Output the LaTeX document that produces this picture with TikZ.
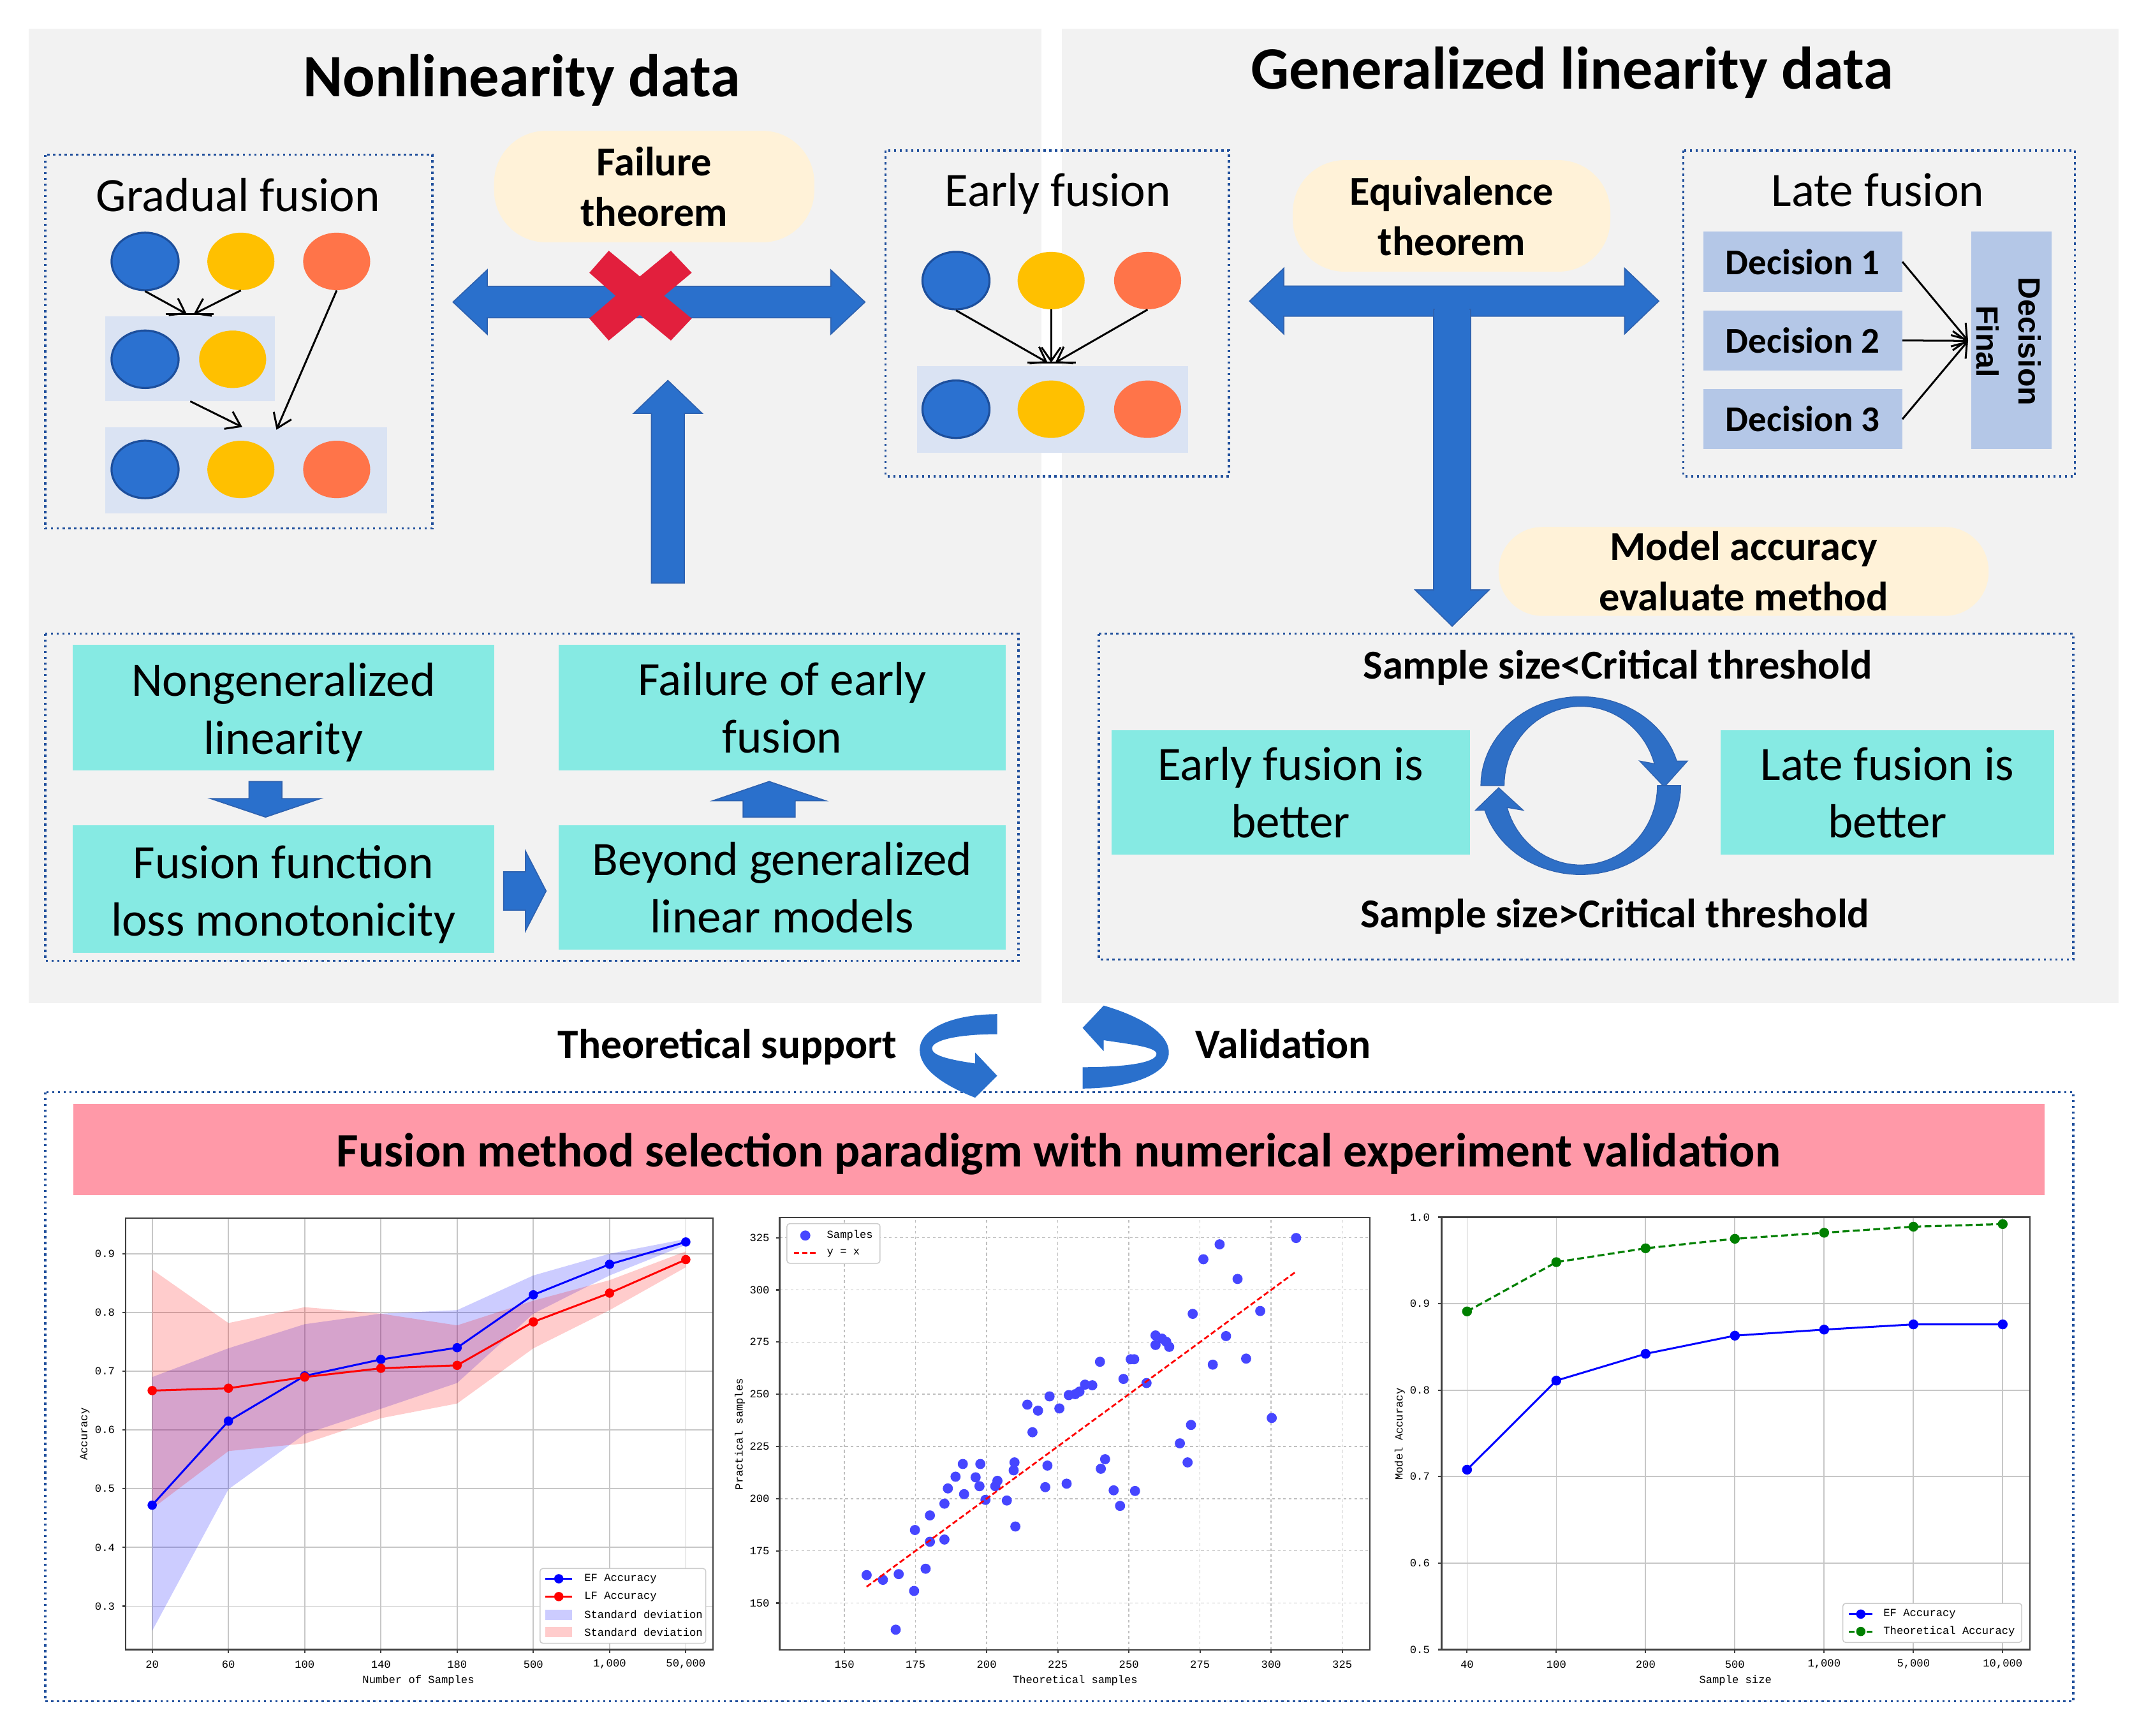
\documentclass[tikz,border=0pt]{standalone}
\usepackage{fontspec}
\setmainfont{Carlito}
\newfontfamily\arialf{Liberation Sans}
\newfontfamily\chartf{Liberation Mono}
\usetikzlibrary{arrows.meta,shapes.geometric}
\definecolor{panel}{HTML}{F2F2F2}
\definecolor{dotblue}{HTML}{21509C}
\definecolor{cblue}{HTML}{2B71D0}
\definecolor{cblueedge}{HTML}{1D4F9C}
\definecolor{cyellow}{HTML}{FFC000}
\definecolor{corange}{HTML}{FF7449}
\definecolor{lightrect}{HTML}{DAE3F3}
\definecolor{bubblec}{HTML}{FFF2D8}
\definecolor{barrow}{HTML}{2A70CC}
\definecolor{barrowedge}{HTML}{2E62B0}
\definecolor{carrc}{HTML}{2E6FC6}
\definecolor{redx}{HTML}{E21F3D}
\definecolor{decis}{HTML}{B4C7E7}
\definecolor{turq}{HTML}{86EAE3}
\definecolor{pinkban}{HTML}{FF99A8}
\definecolor{scat}{RGB}{70,70,255}
\definecolor{mgreen}{RGB}{0,128,0}
\newcommand\ttlfont{\fontsize{44}{52}\selectfont\bfseries}
\newcommand\boxtfont{\fontsize{35}{42}\selectfont}
\newcommand\bubfont{\fontsize{30}{36.7}\selectfont\bfseries}
\newcommand\decfont{\fontsize{26.5}{30}\selectfont\bfseries}
\newcommand\chfont{\chartf\fontsize{8}{9.5}\selectfont}
\begin{document}
\begin{tikzpicture}[x=1pt,y=-1pt,
  dotbox/.style={draw=dotblue, line width=1.7pt, dash pattern=on 1.7pt off 2.5pt},
  bcirc/.style={ellipse, minimum width=49, minimum height=42, inner sep=0, fill=cblue, draw=cblueedge, line width=1.5pt},
  ycirc/.style={ellipse, minimum width=49, minimum height=42, inner sep=0, fill=cyellow},
  ocirc/.style={ellipse, minimum width=49, minimum height=42, inner sep=0, fill=corange},
  lrect/.style={fill=lightrect, inner sep=0},
  thinarr/.style={line width=1.4pt, -{Straight Barb[length=10pt,width=14pt,line width=1.4pt]}},
  blockarr/.style={fill=barrow, draw=barrowedge, line width=0.8pt},
  bubble/.style={fill=bubblec, rounded corners=38, inner sep=0, align=center, font=\bubfont},
  turqbox/.style={fill=turq, inner sep=0, align=center, font=\boxtfont},
  decbox/.style={fill=decis, inner sep=0, font=\decfont},
  gridc/.style={draw=black!22, line width=0.8pt},
  gridd/.style={draw=black!25, line width=0.7pt, dash pattern=on 2pt off 2pt},
  framec/.style={draw=black!75, line width=1pt},
  chlbl/.style={font=\chfont, inner sep=1pt},
  legc/.style={draw=black!20, fill=white, line width=0.7pt, rounded corners=2pt}
]
\useasboundingbox (0,0) rectangle (1568,1268);
\fill[white] (0,0) rectangle (1568,1268);

% ---------------- panels
\fill[panel] (21,21) rectangle (761,733);
\fill[panel] (776,21) rectangle (1548,733);

\node[anchor=base, font=\ttlfont] (t1) at (381,70.4) {Nonlinearity data};
\node[anchor=base, font=\ttlfont] (t2) at (1148.6,65) {Generalized linearity data};

% dotted boxes
\draw[dotbox] (33,113) rectangle (316,386);
\draw[dotbox] (647,110) rectangle (898,348);
\draw[dotbox] (1230,110) rectangle (1516,348);
\draw[dotbox] (33,463) rectangle (744,702);
\draw[dotbox] (803,463) rectangle (1515,701);
\draw[dotbox] (33,798) rectangle (1515,1243);

% ---------------- gradual fusion
\node[anchor=base, font=\boxtfont] (gft) at (174,154.3) {Gradual fusion};
\node[lrect, minimum width=124, minimum height=62] (gr2) at (139,262) {};
\node[lrect, minimum width=206, minimum height=63] (gr3) at (180,343.5) {};
\node[bcirc] (g1) at (106,191) {};
\node[ycirc] (g2) at (176,191) {};
\node[ocirc] (g3) at (246,191) {};
\node[bcirc] (g4) at (106,262.5) {};
\node[ycirc] (g5) at (170,262.5) {};
\node[bcirc] (g6) at (106,343) {};
\node[ycirc] (g7) at (176,343) {};
\node[ocirc] (g8) at (246,343) {};
\coordinate (ga) at (136.5,229.5);
\coordinate (gb) at (141.5,229.5);
\coordinate (gc) at (202,314);
\coordinate (gd) at (177,312);
\draw[thinarr] (g1.south) -- (ga);
\draw[thinarr] (g2.south) -- (gb);
\draw[line width=1.4pt] (121,229.5) -- (156,229.5);
\draw[thinarr] (g3.south) -- (gc);
\draw[thinarr] (gr2.south) -- (gd);

% ---------------- early fusion
\node[anchor=base, font=\boxtfont] (eft) at (773,150.6) {Early fusion};
\node[lrect, minimum width=198, minimum height=63.5] (er) at (769,299.25) {};
\node[bcirc] (e1) at (698.5,205) {};
\node[ycirc] (e2) at (768,205) {};
\node[ocirc] (e3) at (838.5,205) {};
\node[bcirc] (e4) at (698.5,299) {};
\node[ycirc] (e5) at (768,299) {};
\node[ocirc] (e6) at (838.5,299) {};
\coordinate (ea) at (765.5,265);
\coordinate (eb) at (768,265);
\coordinate (ec) at (771,265);
\draw[thinarr] (e1.south) -- (ea);
\draw[thinarr] (e2.south) -- (eb);
\draw[thinarr] (e3.south) -- (ec);
\draw[line width=1.4pt] (750.5,265) -- (786,265);

% ---------------- late fusion
\node[anchor=base, font=\boxtfont] (lft) at (1372,150.6) {Late fusion};
\node[decbox, minimum width=145.2, minimum height=43.9] (d1) at (1317.2,191.25) {Decision 1};
\node[decbox, minimum width=145.2, minimum height=43.9] (d2) at (1317.2,248.75) {Decision 2};
\node[decbox, minimum width=145.2, minimum height=43.9] (d3) at (1317.2,306.25) {Decision 3};
\node[fill=decis, inner sep=0, minimum width=58.6, minimum height=158.9] (fd) at (1469.7,248.75) {};
\node[rotate=-90, align=center, inner sep=0, font=\arialf\fontsize{22.5}{30.7}\selectfont\bfseries] (fdt) at (1467.5,249.5) {Decision\\Final};
\coordinate (fin) at (1438,249);
\draw[thinarr] (d1.east) -- (fin);
\draw[thinarr] (d2.east) -- (fin);
\draw[thinarr] (d3.east) -- (fin);

% ---------------- block arrows
\fill[blockarr] (331,220.7) -- (356,197.2) -- (356,209.2) -- (607,209.2) -- (607,197.2) -- (632,220.7) -- (607,244.2) -- (607,232.2) -- (356,232.2) -- (356,244.2) -- cycle;
\fill[blockarr] (913,220) -- (938,196) -- (938,209) -- (1187,209) -- (1187,196) -- (1212,220) -- (1187,244) -- (1187,231) -- (938,231) -- (938,244) -- cycle;
\fill[blockarr] (1047.5,226) -- (1074.5,226) -- (1074.5,431) -- (1088,431) -- (1061,457.5) -- (1034,431) -- (1047.5,431) -- cycle;
\fill[barrow] (1048.3,220) rectangle (1073.7,232);
\fill[blockarr] (488,278) -- (513,302) -- (500,302) -- (500,426) -- (476,426) -- (476,302) -- (463,302) -- cycle;
\fill[redx] (430.6,199.3) -- (444.8,183.2) -- (467.5,202) -- (490.2,183.2) -- (505.4,199.3) -- (485.2,216.1) -- (505.4,232.7) -- (490.2,248.8) -- (467.5,230) -- (444.8,248.8) -- (430.6,232.7) -- (449.8,216.1) -- cycle;

% ---------------- bubbles
\node[bubble, minimum width=234, minimum height=81.5] (fth) at (478,136.3) {Failure\\theorem};
\node[bubble, minimum width=232, minimum height=81.5] (eth) at (1060.6,157.75) {Equivalence\\theorem};
\node[bubble, minimum width=358, minimum height=65, rounded corners=32] (mae) at (1274,417.5) {Model accuracy\\evaluate method};

% ---------------- nonlinearity flow
\node[turqbox, minimum width=308, minimum height=92] (n1) at (207,517) {};
\node[align=center, font=\boxtfont, inner sep=0] (n1t) at (207,520.5) {Nongeneralized\\linearity};
\node[turqbox, minimum width=327, minimum height=92] (n2) at (571.5,517) {Failure of early\\fusion};
\node[turqbox, minimum width=308, minimum height=93] (n3) at (207,649.5) {};
\node[align=center, font=\boxtfont, inner sep=0] (n3t) at (207,653.5) {Fusion function\\loss monotonicity};
\node[turqbox, minimum width=327, minimum height=91] (n4) at (571.5,648.5) {Beyond generalized\\linear models};
\fill[blockarr] (182,571) -- (206,571) -- (206,583.5) -- (234,583.5) -- (194,597) -- (154,583.5) -- (182,583.5) -- cycle;
\fill[blockarr] (562,571) -- (603,585) -- (581,585) -- (581,597) -- (543,597) -- (543,585) -- (521,585) -- cycle;
\fill[blockarr] (368,637) -- (384,637) -- (384,622) -- (399,651) -- (384,680) -- (384,665) -- (368,665) -- cycle;

% ---------------- threshold box
\node[anchor=base, font=\bubfont] (ss1) at (1182,496.2) {Sample size<Critical threshold};
\node[anchor=base, font=\bubfont] (ss2) at (1180,677.7) {Sample size>Critical threshold};
\node[turqbox, minimum width=262, minimum height=91] (efb) at (943,579) {Early fusion is\\better};
\node[turqbox, minimum width=244, minimum height=91] (lfb) at (1379,579) {Late fusion is\\better};
\fill[carrc, draw=barrowedge, line width=0.6pt] plot[domain=180:16, samples=40, variable=\t] ({1155+73*cos(\t)},{574-65*sin(\t)}) -- (1233,556) -- (1216,575) -- (1198,556) -- plot[domain=16:180, samples=40, variable=\t] ({1155+56*cos(\t)},{574-58*sin(\t)}) -- cycle;
\fill[carrc, draw=barrowedge, line width=0.6pt] plot[domain=0:-164, samples=40, variable=\t] ({1155+73*cos(\t)},{574-65*sin(\t)}) -- (1078,592) -- (1095,575.5) -- (1113,592) -- plot[domain=-164:0, samples=40, variable=\t] ({1155+56*cos(\t)},{574-58*sin(\t)}) -- cycle;

% ---------------- support / validation
\node[anchor=base east, font=\fontsize{30.5}{36}\selectfont\bfseries] (ts) at (659,773.5) {Theoretical support};
\node[anchor=base west, font=\fontsize{30.5}{36}\selectfont\bfseries] (va) at (870,773.5) {Validation};
\fill[barrow] (728.6,741) .. controls (695,741) and (672,752) .. (672,767) .. controls (672,785) and (700,797) .. (712.5,802) -- (728.6,786) -- (712.5,769) -- (712.5,777) .. controls (692,774) and (681,771) .. (681,766) .. controls (681,760) and (700,755.6) .. (728.6,755.6) -- cycle;
\fill[barrow] (791,795.3) .. controls (825,795.3) and (854,785) .. (854,769) .. controls (854,752) and (825,740) .. (806.4,734.7) -- (791,751) -- (806.4,768) -- (806.4,760) .. controls (826,763) and (845,765) .. (845,770) .. controls (845,776) and (825,779.7) .. (791,779.7) -- cycle;

% ---------------- banner
\node[fill=pinkban, inner sep=0, minimum width=1440.3, minimum height=66.5] (ban) at (773.85,839.75) {};
\node[anchor=base, font=\fontsize{35}{42}\selectfont\bfseries] (bant) at (773.5,852.3) {Fusion method selection paradigm with numerical experiment validation};

% ---------------- chart 1
\begin{scope}[shift={(111.2,1302.28)}, x=55.7pt, y=429.2pt]
\foreach \i in {0,...,7} \draw[gridc] (\i,0.2262) -- (\i,0.9605);
\foreach \v in {0.3,0.4,0.5,0.6,0.7,0.8,0.9} \draw[gridc] (-0.348,\v) -- (7.357,\v);
\fill[blue, fill opacity=0.2] (0,0.69) -- (1,0.739) -- (2,0.78) -- (3,0.798) -- (4,0.804) -- (5,0.863) -- (6,0.90) -- (7,0.925) -- (7,0.915) -- (6,0.863) -- (5,0.798) -- (4,0.68) -- (3,0.636) -- (2,0.593) -- (1,0.499) -- (0,0.258) -- cycle;
\fill[red, fill opacity=0.2] (0,0.873) -- (1,0.782) -- (2,0.809) -- (3,0.798) -- (4,0.778) -- (5,0.82) -- (6,0.855) -- (7,0.904) -- (7,0.877) -- (6,0.804) -- (5,0.739) -- (4,0.645) -- (3,0.62) -- (2,0.577) -- (1,0.564) -- (0,0.466) -- cycle;
\draw[blue, line width=1.4pt] (0,0.472) -- (1,0.615) -- (2,0.692) -- (3,0.72) -- (4,0.74) -- (5,0.83) -- (6,0.882) -- (7,0.92);
\foreach \i/\v in {0/0.472,1/0.615,2/0.692,3/0.72,4/0.74,5/0.83,6/0.882,7/0.92} \fill[blue] (\i,\v) circle[radius=3.4pt];
\draw[red, line width=1.4pt] (0,0.667) -- (1,0.671) -- (2,0.69) -- (3,0.705) -- (4,0.71) -- (5,0.784) -- (6,0.833) -- (7,0.89);
\foreach \i/\v in {0/0.667,1/0.671,2/0.69,3/0.705,4/0.71,5/0.784,6/0.833,7/0.89} \fill[red] (\i,\v) circle[radius=3.4pt];
\draw[framec] (-0.348,0.2262) rectangle (7.357,0.9605);
\foreach \v [count=\k] in {0.3,0.4,0.5,0.6,0.7,0.8,0.9} {
  \draw[framec] (-0.348,\v) -- ++(-2.5pt,0pt);
  \node[chlbl, anchor=east] (ay\k) at (-0.47,\v) {\v};
}
\foreach \i/\t in {0/20,1/60,2/100,3/140,4/180,5/500,6/{1,000},7/{50,000}} {
  \draw[framec] (\i,0.2262) -- ++(0pt,-2.5pt);
  \node[chlbl] (ax\i) at (\i,0.201) {\t};
}
\end{scope}
\node[chlbl, rotate=90] (c1yl) at (62,1047.8) {Accuracy};
\node[chlbl] (c1xl) at (305.7,1228) {Number of Samples};
\draw[legc] (394.6,1146) rectangle (515.7,1200.6);
\draw[blue, line width=1.4pt] (398.6,1153.5) -- (418,1153.5);
\fill[blue] (408.3,1153.5) circle[radius=3.4pt];
\draw[red, line width=1.4pt] (398.6,1166.5) -- (418,1166.5);
\fill[red] (408.3,1166.5) circle[radius=3.4pt];
\fill[blue, fill opacity=0.2] (398.6,1176) rectangle (418,1183.4);
\fill[red, fill opacity=0.2] (398.6,1188.8) rectangle (418,1196.2);
\node[chlbl, anchor=west] (l1a) at (425.8,1153.5) {EF Accuracy};
\node[chlbl, anchor=west] (l1b) at (425.8,1166.5) {LF Accuracy};
\node[chlbl, anchor=west] (l1c) at (425.8,1179.7) {Standard deviation};
\node[chlbl, anchor=west] (l1d) at (425.8,1192.5) {Standard deviation};

% ---------------- chart 2
\begin{scope}[shift={(305.24,1399.98)}, x=2.0784pt, y=1.5252pt]
\foreach \t in {150,175,200,225,250,275,300,325} {
  \draw[gridd] (\t,127.6) -- (\t,334.8);
  \draw[gridd] (127.2,\t) -- (334.8,\t);
}
\foreach \a/\b in {342/1185,380/1200,417/1182,410/1357,453/1235,455/1043,480/1165,490/1080,490/997,524/1073,524/960,532/912,550/875,567/835,570/930,597/877,606/905,608/835,620/948,643/905,648/888,670/950,686/855,688/830,690/1032,718/648,730/735,743/667,760/908,765/840,770/622,793/660,810/897,815/618,830/615,840/607,853/585,870/587,888/513,890/850,900/820,920/918,935/967,943/567,960/505,968/505,970/920,997/580,1018/430,1018/460,1033/440,1043/450,1050/466,1075/770,1093/830,1101/712,1105/362,1130/190,1152/522,1168/143,1183/432,1210/252,1230/503,1263/353,1290/690,1347/123}
  \fill[scat] ({150+(\a-290)/6.657},{150+(1273-\b)/6.577}) circle[radius=3.7pt];
\draw[red, line width=1.3pt, dash pattern=on 4pt off 2pt] (157.8,157.8) -- (308.8,308.8);
\draw[framec] (127.2,127.6) rectangle (334.8,334.8);
\foreach \t [count=\k] in {150,175,200,225,250,275,300,325} {
  \draw[framec] (\t,127.6) -- ++(0pt,-2.5pt);
  \draw[framec] (127.2,\t) -- ++(-2.5pt,0pt);
  \node[chlbl] (bx\k) at (\t,120.6) {\t};
  \node[chlbl, anchor=east] (by\k) at (124.2,\t) {\t};
}
\end{scope}
\node[chlbl, rotate=90] (c2yl) at (540.6,1047.8) {Practical samples};
\node[chlbl] (c2xl) at (785.6,1228) {Theoretical samples};
\draw[legc] (575,894) rectangle (643,923);
\fill[scat] (588.4,902.7) circle[radius=3.7pt];
\draw[red, line width=1.3pt, dash pattern=on 4pt off 2pt] (580,915.5) -- (597,915.5);
\node[chlbl, anchor=west] (l2a) at (603,902.7) {Samples};
\node[chlbl, anchor=west] (l2b) at (603,915.5) {y = x};

% ---------------- chart 3
\begin{scope}[shift={(1071.9,1521.1)}, x=65.23pt, y=631.8pt]
\foreach \i in {0,...,6} \draw[gridc] (\i,0.5) -- (\i,1.0);
\foreach \v in {0.6,0.7,0.8,0.9} \draw[gridc] (-0.285,\v) -- (6.304,\v);
\draw[mgreen, line width=1.5pt, dash pattern=on 5pt off 2.5pt] (0,0.891) -- (1,0.948) -- (2,0.964) -- (3,0.975) -- (4,0.982) -- (5,0.989) -- (6,0.992);
\foreach \i/\v in {0/0.891,1/0.948,2/0.964,3/0.975,4/0.982,5/0.989,6/0.992} \fill[mgreen] (\i,\v) circle[radius=3.6pt];
\draw[blue, line width=1.4pt] (0,0.708) -- (1,0.811) -- (2,0.842) -- (3,0.863) -- (4,0.870) -- (5,0.876) -- (6,0.876);
\foreach \i/\v in {0/0.708,1/0.811,2/0.842,3/0.863,4/0.870,5/0.876,6/0.876} \fill[blue] (\i,\v) circle[radius=3.6pt];
\draw[framec] (-0.285,0.5) rectangle (6.304,1.0);
\foreach \v [count=\k] in {0.5,0.6,0.7,0.8,0.9,1.0} {
  \draw[framec] (-0.285,\v) -- ++(-2.5pt,0pt);
  \node[chlbl, anchor=east] (cy\k) at (-0.40,\v) {\v};
}
\foreach \i/\t in {0/40,1/100,2/200,3/500,4/{1,000},5/{5,000},6/{10,000}} {
  \draw[framec] (\i,0.5) -- ++(0pt,-2.5pt);
  \node[chlbl] (cx\i) at (\i,0.483) {\t};
}
\end{scope}
\node[chlbl, rotate=90] (c3yl) at (1022.8,1047.8) {Model Accuracy};
\node[chlbl] (c3xl) at (1268,1228) {Sample size};
\draw[legc] (1346.5,1171.5) rectangle (1477.2,1200);
\draw[blue, line width=1.4pt] (1351,1179.3) -- (1368,1179.3);
\fill[blue] (1359.6,1179.3) circle[radius=3.4pt];
\draw[mgreen, line width=1.5pt, dash pattern=on 4pt off 2.5pt] (1351,1192) -- (1369,1192);
\fill[mgreen] (1359.6,1192) circle[radius=3.4pt];
\node[chlbl, anchor=west] (l3a) at (1375,1179.3) {EF Accuracy};
\node[chlbl, anchor=west] (l3b) at (1375,1192) {Theoretical Accuracy};
\end{tikzpicture}
\end{document}
